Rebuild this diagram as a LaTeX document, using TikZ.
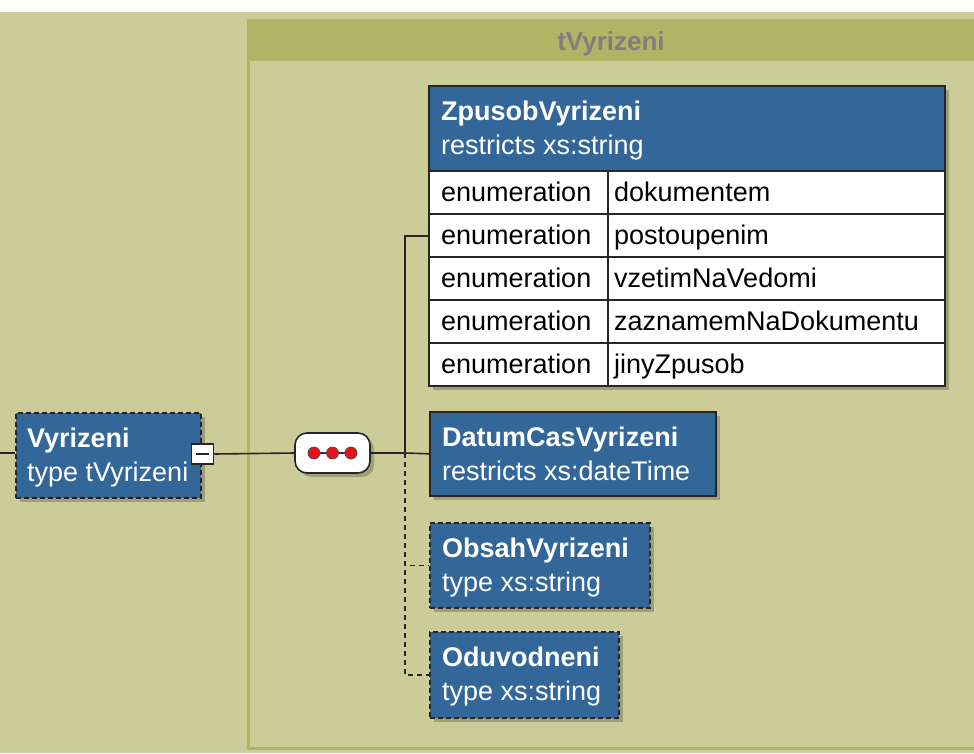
\documentclass[tikz,border=0pt]{standalone}
\usepackage{fontspec}
\setmainfont{Liberation Sans}
\usetikzlibrary{shadows}
\definecolor{khaki}{HTML}{CCCC99}
\definecolor{olivebar}{HTML}{B3B366}
\definecolor{elblue}{HTML}{336699}
\definecolor{ttlgray}{HTML}{7F7F7F}
\definecolor{dotred}{HTML}{E8101A}

\begin{document}
\begin{tikzpicture}[x=1pt,y=-1pt,
  every node/.style={font=\fontsize{27}{34}\selectfont},
  softshadow/.style={drop shadow={shadow xshift=4pt, shadow yshift=-4pt, opacity=0.22, fill=black}},
  elem/.style={draw=black!85, line width=1.6pt, fill=elblue, anchor=north west,
               inner sep=0pt, softshadow},
  optelem/.style={elem, line width=2pt, dash pattern=on 5pt off 3pt},
  lbl/.style={text=white, inner sep=0pt, anchor=base west},
  celltxt/.style={text=black, inner sep=0pt, anchor=base west},
  cell/.style={draw=black!85, line width=1.5pt, fill=white, anchor=north west, inner sep=0pt,
               minimum height=43pt},
  conn/.style={draw=black!85, line width=1.6pt},
  optconn/.style={conn, dash pattern=on 5pt off 4pt},
  seqdot/.style={circle, fill=dotred, draw=black!70, line width=0.8pt, minimum size=12pt, inner sep=0pt}
]
\useasboundingbox (0,0) rectangle (974,753);

% page background
\fill[white] (0,0) rectangle (974,12);
\fill[khaki] (0,12) rectangle (974,753);

% complex type frame with its title bar
\fill[olivebar] (247,20) rectangle (976,61);
\draw[olivebar, line width=3pt] (248,20) rectangle (976,748);
\node[font=\fontsize{26}{30}\selectfont\bfseries, text=ttlgray, anchor=base, inner sep=0pt] (ttl) at (611,50) {tVyrizeni};

% root element
\node[optelem, minimum width=185pt, minimum height=85pt] (vyr) at (15,412) {};
\node[lbl] (vyrA) at (27,447) {\textbf{Vyrizeni}};
\node[lbl] (vyrB) at (27,481) {type tVyrizeni};
\coordinate (inc) at (0,453);
\draw[conn] (inc) -- (vyr.west |- inc);

% collapse button
\node[draw=black!85, fill=white, line width=1.6pt, minimum width=22pt, minimum height=20pt, inner sep=0pt] (minus) at (202.5,454) {};
\draw[black!85, line width=2pt] ([xshift=-6.5pt]minus.center) -- ([xshift=6.5pt]minus.center);

% sequence compositor
\node[draw=black!85, fill=white, line width=1.6pt, rounded corners=12pt, minimum width=75pt,
      minimum height=40pt, inner sep=0pt, softshadow] (seq) at (332.5,453) {};
\node[seqdot] (d1) at (314,453) {};
\node[seqdot] (d2) at (332.5,453) {};
\node[seqdot] (d3) at (351,453) {};
\draw[black!80, line width=1.6pt] (d1) -- (d2) -- (d3);

\draw[conn] (minus.east) -- (seq.west);
\coordinate (fork) at (405,453);
\draw[conn] (seq.east) -- (fork);

% ZpusobVyrizeni with its enumeration table
\node[elem, minimum width=516pt, minimum height=300pt] (zp) at (428,85) {};
\node[lbl] (zpA) at (441,120) {\textbf{ZpusobVyrizeni}};
\node[lbl] (zpB) at (441,154) {restricts xs:string};
\foreach \v [count=\i from 0] in {dokumentem,postoupenim,vzetimNaVedomi,zaznamemNaDokumentu,jinyZpusob}{
  \node[cell, minimum width=179pt] (k\i) at (428,{170+43*\i}) {};
  \node[cell, minimum width=337pt] (v\i) at (607,{170+43*\i}) {};
  \node[celltxt] (kt\i) at (441,{201+43*\i}) {enumeration};
  \node[celltxt] (vt\i) at (614,{201+43*\i}) {\v};
}

% DatumCasVyrizeni
\node[elem, minimum width=286pt, minimum height=84pt] (dat) at (429,411) {};
\node[lbl] (datA) at (442,446) {\textbf{DatumCasVyrizeni}};
\node[lbl] (datB) at (442,480) {restricts xs:dateTime};

% ObsahVyrizeni (optional)
\node[optelem, minimum width=220pt, minimum height=85pt] (obs) at (429,522) {};
\node[lbl] (obsA) at (442,557) {\textbf{ObsahVyrizeni}};
\node[lbl] (obsB) at (442,591) {type xs:string};

% Oduvodneni (optional)
\node[optelem, minimum width=189pt, minimum height=86pt] (odu) at (429,631) {};
\node[lbl] (oduA) at (442,666) {\textbf{Oduvodneni}};
\node[lbl] (oduB) at (442,700) {type xs:string};

% connectors from the compositor to its children
\draw[conn] (fork) |- (zp.west);
\draw[conn] (fork) -- (dat.west);
\draw[optconn] (fork) |- (obs.west);
\draw[optconn] (fork) |- (odu.west);
\end{tikzpicture}
\end{document}
